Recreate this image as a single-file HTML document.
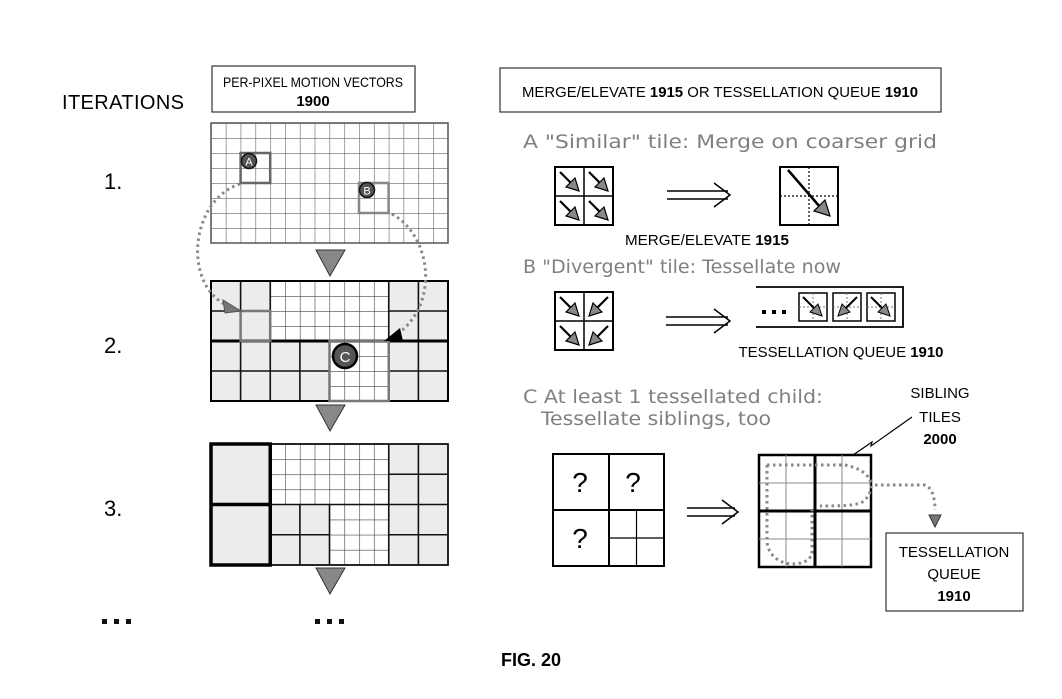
<!DOCTYPE html>
<html><head><meta charset="utf-8"><style>
html,body{margin:0;padding:0;background:#fff;}
svg{display:block;}
.c{font-family:"Liberation Sans",sans-serif;}
.g{font-family:"DejaVu Sans","Liberation Sans",sans-serif;fill:#808080;}
</style></head><body>
<svg width="1062" height="699" viewBox="0 0 1062 699" xmlns="http://www.w3.org/2000/svg">
<defs>
<pattern id="p1" patternUnits="userSpaceOnUse" x="211" y="123" width="14.8125" height="15"><rect width="15" height="15" fill="#fff"/><path d="M0 0H15M0 0V15" stroke="#666" stroke-width="1.2"/></pattern>
<pattern id="p2" patternUnits="userSpaceOnUse" x="211" y="281" width="14.8125" height="15"><rect width="15" height="15" fill="#fff"/><path d="M0 0H15M0 0V15" stroke="#444" stroke-width="1.2"/></pattern>
<pattern id="p3" patternUnits="userSpaceOnUse" x="211" y="444" width="14.8125" height="15.125"><rect width="15" height="16" fill="#fff"/><path d="M0 0H15M0 0V16" stroke="#444" stroke-width="1.2"/></pattern>
<g id="arr"><line x1="5" y1="5" x2="17" y2="17" stroke="#000" stroke-width="2.2"/><polygon points="24,24 11,20 20,11" fill="#888" stroke="#000" stroke-width="1.2"/></g>
<g id="arrL"><line x1="24" y1="5" x2="12" y2="17" stroke="#000" stroke-width="2.2"/><polygon points="5,24 18,20 9,11" fill="#888" stroke="#000" stroke-width="1.2"/></g>
</defs>

<text x="62" y="109" class="c" font-size="20" textLength="122">ITERATIONS</text>
<rect x="212" y="66" width="203" height="46" fill="none" stroke="#333" stroke-width="1.2"/>
<text x="313" y="87" class="c" font-size="14" text-anchor="middle" textLength="180" lengthAdjust="spacingAndGlyphs">PER-PIXEL MOTION VECTORS</text>
<text x="313" y="106" class="c" font-size="15" font-weight="bold" text-anchor="middle">1900</text>
<rect x="500" y="68" width="441" height="44" fill="none" stroke="#333" stroke-width="1.2"/>
<text x="720" y="97" class="c" font-size="15" text-anchor="middle" textLength="396" lengthAdjust="spacingAndGlyphs">MERGE/ELEVATE <tspan font-weight="bold">1915</tspan> OR TESSELLATION QUEUE <tspan font-weight="bold">1910</tspan></text>

<g class="c" font-size="22">
<text x="104" y="189">1.</text><text x="104" y="353">2.</text><text x="104" y="516">3.</text>
</g>
<g fill="#111"><rect x="102" y="619" width="5" height="5"/><rect x="114" y="619" width="5" height="5"/><rect x="126" y="619" width="5" height="5"/>
<rect x="315" y="619" width="5" height="5"/><rect x="327" y="619" width="5" height="5"/><rect x="339" y="619" width="5" height="5"/></g>

<rect x="211" y="123" width="237" height="120" fill="url(#p1)" stroke="#555" stroke-width="1.5"/>
<rect x="240.6" y="153" width="29.6" height="30" fill="none" stroke="#666" stroke-width="2.5"/>
<circle cx="249" cy="161" r="7.5" fill="#555" stroke="#111" stroke-width="1.5"/><text x="249" y="165.5" class="c" font-size="11" fill="#fff" text-anchor="middle">A</text>
<rect x="359" y="183" width="29.6" height="30" fill="none" stroke="#888" stroke-width="2.5"/>
<circle cx="367" cy="190" r="7.5" fill="#555" stroke="#111" stroke-width="1.5"/><text x="367" y="194.5" class="c" font-size="11" fill="#fff" text-anchor="middle">B</text>

<polygon points="316,250 345,250 330,276" fill="#888" stroke="#333" stroke-width="1"/>

<rect x="211" y="281" width="237" height="120" fill="#ececec"/>
<rect x="270.25" y="281" width="118.5" height="60" fill="url(#p2)"/>
<rect x="329.5" y="341" width="59.25" height="60" fill="url(#p2)"/>
<g stroke="#111" stroke-width="1.6">
<path d="M240.6 281V401M270.25 281V401M299.9 341V401M329.5 341V401M388.75 281V401M418.4 281V401"/>
<path d="M211 311H270.25M388.75 311H448M211 371H329.5M388.75 371H448"/>
</g>
<path d="M211 341H448" stroke="#000" stroke-width="3"/>
<rect x="211" y="281" width="237" height="120" fill="none" stroke="#000" stroke-width="2"/>
<rect x="240.6" y="311" width="29.6" height="30" fill="none" stroke="#777" stroke-width="2.5"/>
<rect x="329.5" y="341" width="59.25" height="60" fill="none" stroke="#777" stroke-width="2.5"/>
<circle cx="345" cy="356" r="12" fill="#555" stroke="#000" stroke-width="2.5"/><text x="345" y="362" class="c" font-size="15" fill="#fff" text-anchor="middle">C</text>

<path d="M240 184 C190 200 182 285 228 306" fill="none" stroke="#888" stroke-width="3" stroke-dasharray="2.5 3.5"/>
<polygon points="241,311 223,300 225,313" fill="#777" stroke="#555"/>
<path d="M392 214 C430 235 440 300 400 332" fill="none" stroke="#888" stroke-width="3" stroke-dasharray="2.5 3.5"/>
<polygon points="384,341 400,328 403,341" fill="#000"/>

<polygon points="316,405 345,405 330,431" fill="#888" stroke="#333" stroke-width="1"/>

<rect x="211" y="444" width="237" height="121" fill="#ececec"/>
<rect x="270.25" y="444" width="118.5" height="60.5" fill="url(#p3)"/>
<rect x="329.5" y="504.5" width="59.25" height="60.5" fill="url(#p3)"/>
<g stroke="#111" stroke-width="1.6">
<path d="M270.25 444V565M299.9 504.5V565M329.5 504.5V565M388.75 444V565M418.4 444V565"/>
<path d="M388.75 474.25H448M270.25 504.5H448M270.25 534.75H329.5M388.75 534.75H448"/>
</g>
<rect x="211" y="444" width="237" height="121" fill="none" stroke="#111" stroke-width="1.8"/>
<rect x="211" y="444" width="59.25" height="121" fill="none" stroke="#000" stroke-width="3.5"/>
<path d="M211 504.5H270.25" stroke="#000" stroke-width="3.5"/>

<polygon points="316,568 345,568 330,594" fill="#888" stroke="#333" stroke-width="1"/>

<text x="523" y="148" class="g" font-size="19" textLength="414" lengthAdjust="spacingAndGlyphs">A "Similar" tile: Merge on coarser grid</text>
<rect x="555" y="167" width="58" height="58" fill="#fff" stroke="#000" stroke-width="2"/>
<path d="M584 167V225M555 196H613" stroke="#000" stroke-width="1.5"/>
<use href="#arr" x="555" y="167"/><use href="#arr" x="584" y="167"/><use href="#arr" x="555" y="196"/><use href="#arr" x="584" y="196"/>
<g stroke="#000" stroke-width="1.5" fill="none"><path d="M667 191H728M667 199H728M714 183L730 195L714 207"/></g>
<rect x="780" y="167" width="58" height="58" fill="#fff" stroke="#000" stroke-width="2"/>
<path d="M809 167V225M780 196H838" stroke="#000" stroke-width="1.2" stroke-dasharray="2 2"/>
<line x1="788" y1="170" x2="820" y2="207" stroke="#000" stroke-width="2.5"/>
<polygon points="830,216 814,211 825,200" fill="#888" stroke="#000" stroke-width="1.2"/>
<text x="707" y="245" class="c" font-size="15" text-anchor="middle" textLength="164" lengthAdjust="spacingAndGlyphs">MERGE/ELEVATE <tspan font-weight="bold">1915</tspan></text>

<text x="523" y="273" class="g" font-size="19" textLength="318" lengthAdjust="spacingAndGlyphs">B "Divergent" tile: Tessellate now</text>
<rect x="555" y="292" width="58" height="58" fill="#fff" stroke="#000" stroke-width="2"/>
<path d="M584 292V350M555 321H613" stroke="#000" stroke-width="1.5"/>
<use href="#arr" x="555" y="292"/><use href="#arrL" x="584" y="292"/><use href="#arr" x="555" y="321"/><use href="#arrL" x="584" y="321"/>
<g stroke="#000" stroke-width="1.5" fill="none"><path d="M666 317H728M666 325H728M714 309L730 321L714 333"/></g>
<path d="M756 287H903V327H756" fill="none" stroke="#000" stroke-width="1.8"/>
<g fill="#000"><rect x="762" y="310" width="4" height="4"/><rect x="772" y="310" width="4" height="4"/><rect x="782" y="310" width="4" height="4"/></g>
<g>
<rect x="799" y="293" width="28" height="28" fill="#fff" stroke="#000" stroke-width="1.5"/>
<path d="M813 293V321M799 307H827" stroke="#777" stroke-width="1" stroke-dasharray="2 2"/>
<line x1="803" y1="297" x2="815" y2="309" stroke="#000" stroke-width="2"/><polygon points="822,316 810,312 818,304" fill="#888" stroke="#000"/>
<rect x="833" y="293" width="28" height="28" fill="#fff" stroke="#000" stroke-width="1.5"/>
<path d="M847 293V321M833 307H861" stroke="#777" stroke-width="1" stroke-dasharray="2 2"/>
<line x1="857" y1="297" x2="845" y2="309" stroke="#000" stroke-width="2"/><polygon points="838,316 850,312 842,304" fill="#888" stroke="#000"/>
<rect x="867" y="293" width="28" height="28" fill="#fff" stroke="#000" stroke-width="1.5"/>
<path d="M881 293V321M867 307H895" stroke="#777" stroke-width="1" stroke-dasharray="2 2"/>
<line x1="871" y1="297" x2="883" y2="309" stroke="#000" stroke-width="2"/><polygon points="890,316 878,312 886,304" fill="#888" stroke="#000"/>
</g>
<text x="841" y="357" class="c" font-size="15" text-anchor="middle" textLength="205" lengthAdjust="spacingAndGlyphs">TESSELLATION QUEUE <tspan font-weight="bold">1910</tspan></text>

<text x="523" y="403" class="g" font-size="19" textLength="300" lengthAdjust="spacingAndGlyphs">C At least 1 tessellated child:</text>
<text x="541" y="425" class="g" font-size="19" textLength="230" lengthAdjust="spacingAndGlyphs">Tessellate siblings, too</text>
<g class="c" font-size="15" text-anchor="middle">
<text x="940" y="398">SIBLING</text><text x="940" y="422">TILES</text><text x="940" y="444" font-weight="bold">2000</text></g>
<path d="M821 477L872 442L871 446L912 417" fill="none" stroke="#000" stroke-width="1.2"/>

<rect x="553" y="454" width="111" height="112" fill="#fff" stroke="#000" stroke-width="2"/>
<path d="M609 454V566M553 510H664" stroke="#000" stroke-width="2"/>
<path d="M636.5 510V566M609 538H664" stroke="#000" stroke-width="1.2"/>
<g class="c" font-size="28" text-anchor="middle"><text x="580" y="492">?</text><text x="633" y="492">?</text><text x="580" y="548">?</text></g>
<g stroke="#000" stroke-width="1.5" fill="none"><path d="M687 508H735M687 516H735M722 500L738 512L722 524"/></g>

<rect x="759" y="455" width="112" height="112" fill="#fff" stroke="#000" stroke-width="2.5"/>
<path d="M786 455V567M842 455V567M759 483H871M759 539H871" stroke="#888" stroke-width="1"/>
<path d="M815 455V567M759 511H871" stroke="#000" stroke-width="3"/>
<path d="M767 465H845C870 470 878 485 865 500C860 505 850 506 820 506M767 465V540C767 560 790 570 808 560L812 555V510" fill="none" stroke="#888" stroke-width="3" stroke-dasharray="2.5 3.5"/>
<path d="M875 485H925C933 488 935 500 935 510" fill="none" stroke="#888" stroke-width="3" stroke-dasharray="2.5 3.5"/>
<polygon points="929,515 941,515 935,527" fill="#777" stroke="#333"/>
<rect x="886" y="533" width="137" height="78" fill="#fff" stroke="#333" stroke-width="1.2"/>
<g class="c" font-size="15" text-anchor="middle"><text x="954" y="557">TESSELLATION</text><text x="954" y="579">QUEUE</text><text x="954" y="601" font-weight="bold">1910</text></g>

<text x="531" y="666" class="c" font-size="18" font-weight="bold" text-anchor="middle">FIG. 20</text>
</svg>
</body></html>
